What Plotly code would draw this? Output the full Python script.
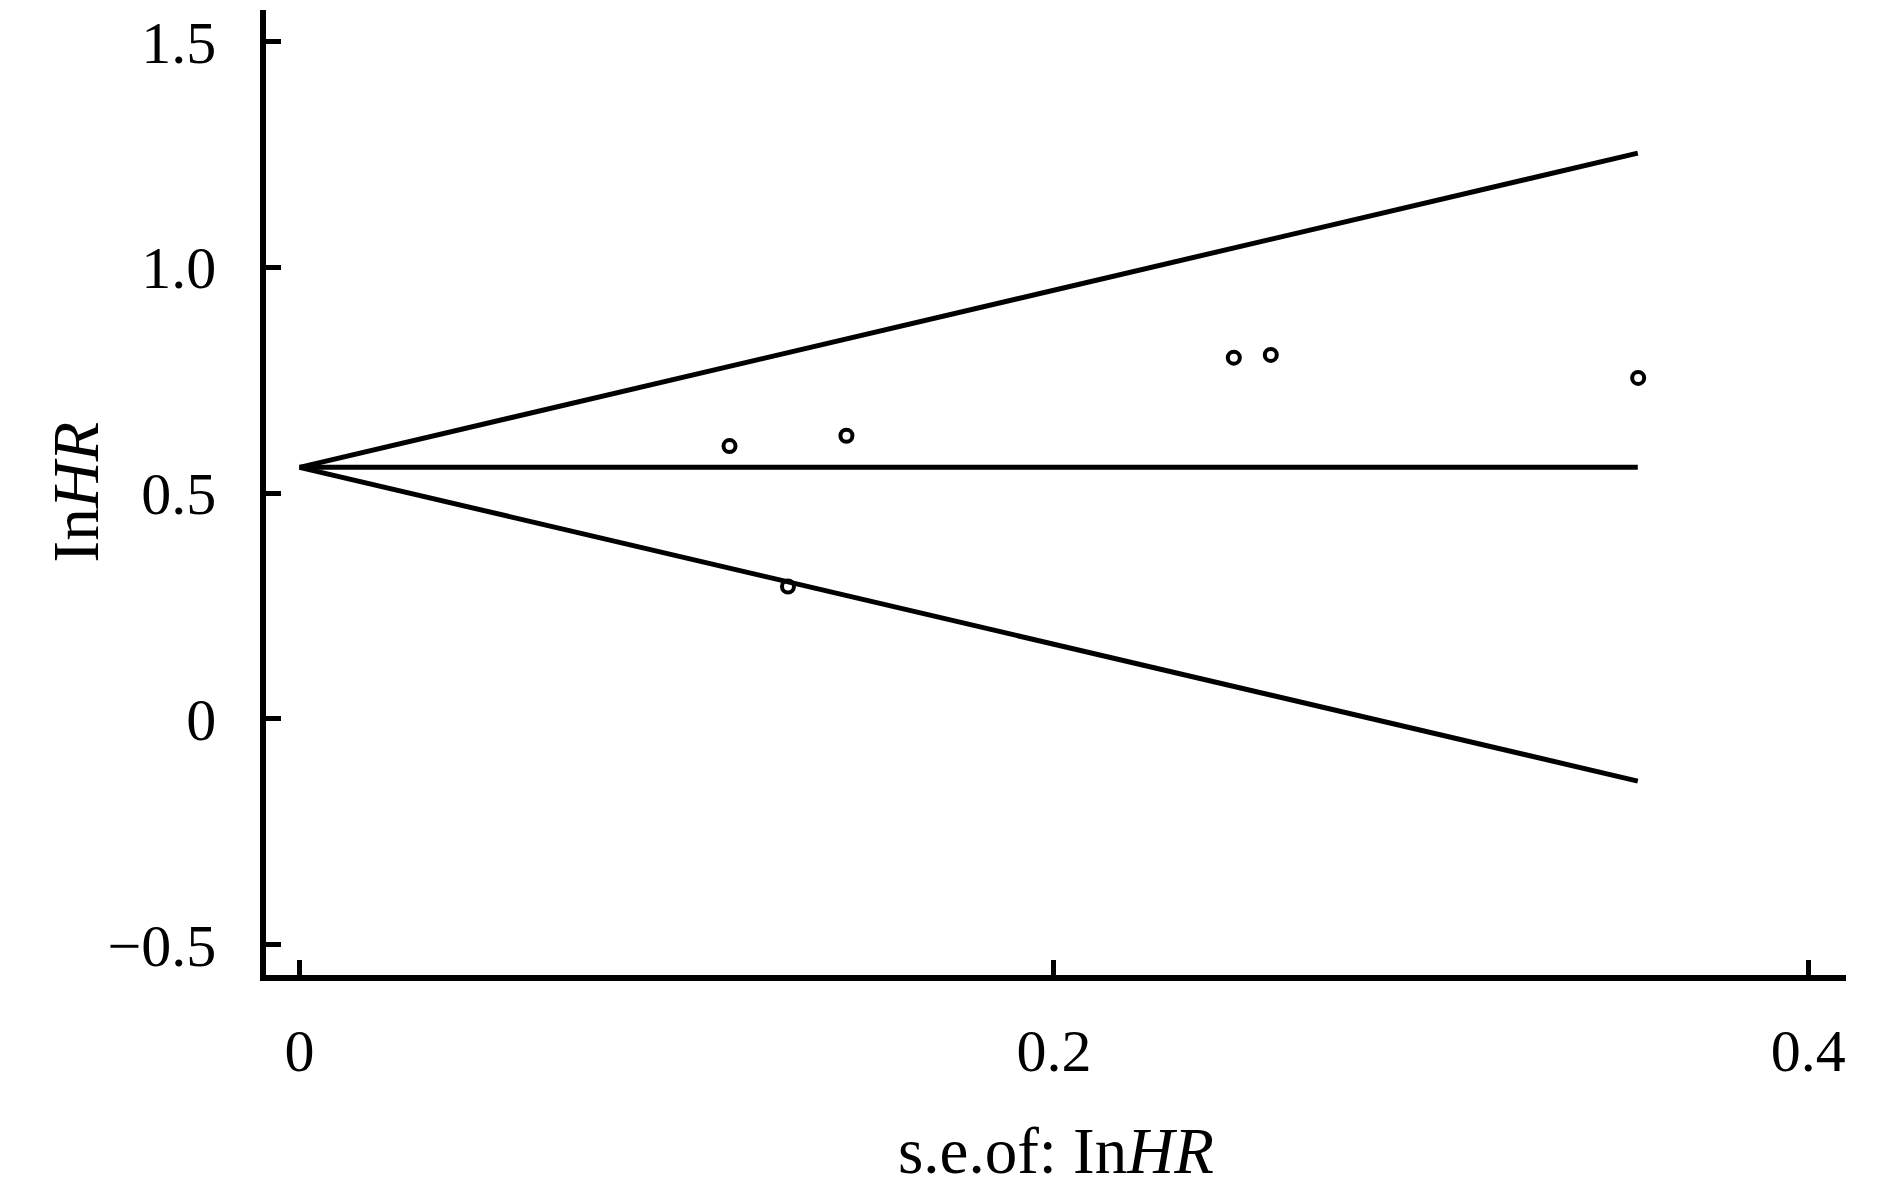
import plotly.graph_objects as go

# Study points (standard error of lnHR, lnHR)
se_vals = [0.1140, 0.1295, 0.1450, 0.2477, 0.2575, 0.3549]
lnhr_vals = [0.604, 0.293, 0.627, 0.800, 0.806, 0.755]

# Pooled estimate line and pseudo 95% confidence limits
line_se = [0.0, 0.3548]
pooled = [0.557, 0.557]
upper_limit = [0.557, 1.253]
lower_limit = [0.557, -0.138]

x_tickvals = [0, 0.2, 0.4]
x_ticktext = ["0", "0.2", "0.4"]
y_tickvals = [1.5, 1.0, 0.5, 0, -0.5]
y_ticktext = ["1.5", "1.0", "0.5", "0", "\u22120.5"]

FONT = "Liberation Serif"
FS = 60
TFS = 65
LW = 5

fig = go.Figure()
for yy in (upper_limit, pooled, lower_limit):
    fig.add_trace(go.Scatter(x=line_se, y=yy, mode="lines",
                             line=dict(color="black", width=LW),
                             showlegend=False, hoverinfo="skip"))
fig.add_trace(go.Scatter(x=se_vals, y=lnhr_vals, mode="markers",
                         marker=dict(symbol="circle-open", size=12,
                                     color="black", line=dict(width=4, color="black")),
                         showlegend=False))

fig.update_layout(
    width=1890, height=1190,
    margin=dict(l=258, r=52, t=2, b=223, autoexpand=False),
    paper_bgcolor="white", plot_bgcolor="white",
    font=dict(family=FONT, size=FS, color="black"),
    xaxis=dict(range=[-0.00888, 0.41], tickvals=x_tickvals, ticktext=x_ticktext,
               showline=True, linecolor="black", linewidth=5.5,
               ticks="inside", ticklen=15, tickwidth=5, tickcolor="black",
               showgrid=False, zeroline=False, ticklabelstandoff=18,
               automargin=False),
    yaxis=dict(range=[-0.5675, 1.570], tickvals=y_tickvals, ticktext=y_ticktext,
               showline=True, linecolor="black", linewidth=5.5,
               ticks="inside", ticklen=15, tickwidth=5, tickcolor="black",
               showgrid=False, zeroline=False, ticklabelstandoff=32,
               automargin=False),
    annotations=[
        dict(text="s.e.of: In<i>HR</i>", xref="paper", yref="paper", x=0.5, y=0,
             yshift=-176, xanchor="center", yanchor="middle", showarrow=False,
             font=dict(family=FONT, size=TFS, color="black")),
        dict(text="In<i>HR</i>", xref="paper", yref="paper", x=0, y=0.5,
             xshift=-191, xanchor="center", yanchor="middle", showarrow=False,
             textangle=-90, font=dict(family=FONT, size=TFS, color="black")),
    ],
)

fig.write_html("out.html")
